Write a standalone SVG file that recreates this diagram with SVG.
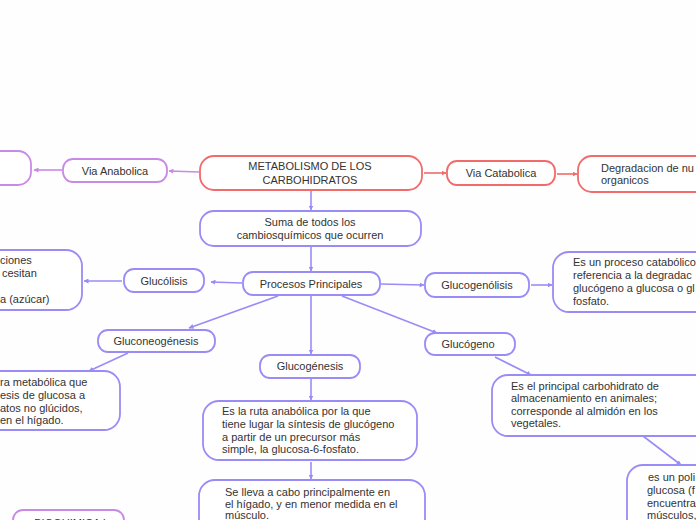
<svg xmlns="http://www.w3.org/2000/svg" width="696" height="520" viewBox="0 0 696 520">
<defs>
<style>
text{font-family:"Liberation Sans",Arial,sans-serif;font-size:11px;fill:#333;}
.c{text-anchor:middle;}
.b{fill:#fff;stroke:#9a8cf6;stroke-width:1.8;}
.r{fill:#fff;stroke:#f26b6b;stroke-width:1.8;}
.p{fill:#fff;stroke:#c98ae6;stroke-width:1.8;}
.lb{stroke:#9a8cf6;stroke-width:1.6;fill:none;marker-end:url(#ab);}
.lr{stroke:#f26b6b;stroke-width:1.6;fill:none;marker-end:url(#ar);}
.lp{stroke:#c98ae6;stroke-width:1.6;fill:none;marker-end:url(#ap);}
</style>
<marker id="ab" viewBox="0 0 10 10" refX="9" refY="5" markerWidth="5" markerHeight="5" orient="auto" markerUnits="userSpaceOnUse"><path d="M0,0L10,5L0,10z" fill="#9a8cf6"/></marker>
<marker id="ar" viewBox="0 0 10 10" refX="9" refY="5" markerWidth="5" markerHeight="5" orient="auto" markerUnits="userSpaceOnUse"><path d="M0,0L10,5L0,10z" fill="#f26b6b"/></marker>
<marker id="ap" viewBox="0 0 10 10" refX="9" refY="5" markerWidth="5" markerHeight="5" orient="auto" markerUnits="userSpaceOnUse"><path d="M0,0L10,5L0,10z" fill="#c98ae6"/></marker>
</defs>
<rect width="696" height="520" fill="#fefefe"/>
<g id="connectors">
<path class="lp" d="M199,172L169,171"/>
<path class="lp" d="M62,170L34,170"/>
<path class="lr" d="M424,173L446,173"/>
<path class="lr" d="M557,174L577,174"/>
<path class="lb" d="M311,191L311,210"/>
<path class="lb" d="M311,247L311,271"/>
<path class="lb" d="M242,283L211,282"/>
<path class="lb" d="M122,281L84,281"/>
<path class="lb" d="M381,284L424,285"/>
<path class="lb" d="M531,285L552,285"/>
<path class="lb" d="M278,296L189,328"/>
<path class="lb" d="M128,353L89,371"/>
<path class="lb" d="M311,296L311,354"/>
<path class="lb" d="M311,379L311,400"/>
<path class="lb" d="M311,462L311,479"/>
<path class="lb" d="M342,296L437,333"/>
<path class="lb" d="M495,357L531,375"/>
<path class="lb" d="M643,436L681,465"/>
</g>
<g id="n-left-top"><rect class="p" x="-20" y="151" width="51" height="34" rx="13"/></g>
<g id="n-via-anabolica"><rect class="p" x="63" y="159" width="104" height="23" rx="10"/><text class="c" x="115" y="174.5">Via Anabolica</text></g>
<g id="n-metabolismo"><rect class="r" x="200" y="156" width="222" height="34" rx="14"/><text class="c" x="310" y="170">METABOLISMO DE LOS</text><text class="c" x="310" y="184">CARBOHIDRATOS</text></g>
<g id="n-via-catabolica"><rect class="r" x="447" y="161" width="108" height="24" rx="10"/><text class="c" x="501" y="177">Via Catabolica</text></g>
<g id="n-degradacion"><rect class="r" x="578" y="156" width="140" height="36" rx="14"/><text x="601" y="172">Degradacion de nu</text><text x="601" y="184">organicos</text></g>
<g id="n-suma"><rect class="b" x="200" y="211" width="221" height="35" rx="14"/><text class="c" x="310" y="226">Suma de todos los</text><text class="c" x="310" y="239">cambiosquímicos que ocurren</text></g>
<g id="n-procesos"><rect class="b" x="243" y="272" width="137" height="23" rx="10"/><text class="c" x="311" y="287.5">Procesos Principales</text></g>
<g id="n-glucolisis"><rect class="b" x="124" y="269" width="80" height="23" rx="10"/><text class="c" x="164" y="284.5">Glucólisis</text></g>
<g id="n-glucolisis-desc"><rect class="b" x="-40" y="250" width="122" height="60" rx="16"/><text x="0" y="264">ciones</text><text x="2" y="277">cesitan</text><text x="0" y="303">a (azúcar)</text></g>
<g id="n-glucogenolisis"><rect class="b" x="425" y="273" width="104" height="24" rx="10"/><text class="c" x="477" y="288.5">Glucogenólisis</text></g>
<g id="n-glucogenolisis-desc"><rect class="b" x="553" y="252" width="170" height="60" rx="16"/><text x="573" y="266">Es un proceso catabólico</text><text x="573" y="279">referencia a la degradac</text><text x="573" y="292">glucógeno a glucosa o gl</text><text x="573" y="305">fosfato.</text></g>
<g id="n-gluconeogenesis"><rect class="b" x="98" y="330" width="117" height="22" rx="10"/><text class="c" x="156" y="345">Gluconeogénesis</text></g>
<g id="n-gluconeogenesis-desc"><rect class="b" x="-40" y="371" width="160" height="59" rx="16"/><text x="0" y="386">ra metabólica que</text><text x="0" y="399">esis de glucosa a</text><text x="0" y="412">atos no glúcidos,</text><text x="0" y="424"> en el hígado.</text></g>
<g id="n-glucogenesis"><rect class="b" x="260" y="355" width="100" height="23" rx="10"/><text class="c" x="310" y="370">Glucogénesis</text></g>
<g id="n-ruta"><rect class="b" x="203" y="401" width="214" height="59" rx="16"/><text x="222" y="415">Es la ruta anabólica por la que</text><text x="222" y="428">tiene lugar la síntesis de glucógeno</text><text x="222" y="441">a partir de un precursor más</text><text x="222" y="453">simple, la glucosa-6-fosfato.</text></g>
<g id="n-lleva"><rect class="b" x="199" y="480" width="226" height="60" rx="16"/><text x="225" y="496">Se lleva a cabo principalmente en</text><text x="225" y="508">el hígado, y en menor medida en el</text><text x="225" y="519">músculo.</text></g>
<g id="n-glucogeno"><rect class="b" x="425" y="333" width="90" height="22" rx="10"/><text class="c" x="468" y="348">Glucógeno</text></g>
<g id="n-principal"><rect class="b" x="492" y="375" width="230" height="61" rx="16"/><text x="511" y="390">Es el principal carbohidrato de</text><text x="511" y="402">almacenamiento en animales;</text><text x="511" y="415">corresponde al almidón en los</text><text x="511" y="427">vegetales.</text></g>
<g id="n-polisacarido"><rect class="b" x="627" y="465" width="100" height="80" rx="16"/><text x="648" y="481"> es un poli</text><text x="647" y="494">glucosa (f</text><text x="647" y="507">encuentra</text><text x="647" y="519">músculos,</text></g>
<g id="n-bioquimica"><rect class="p" x="13" y="510" width="111" height="30" rx="10"/><text class="c" x="70" y="527">BIOQUIMICA I</text></g>
</svg>
